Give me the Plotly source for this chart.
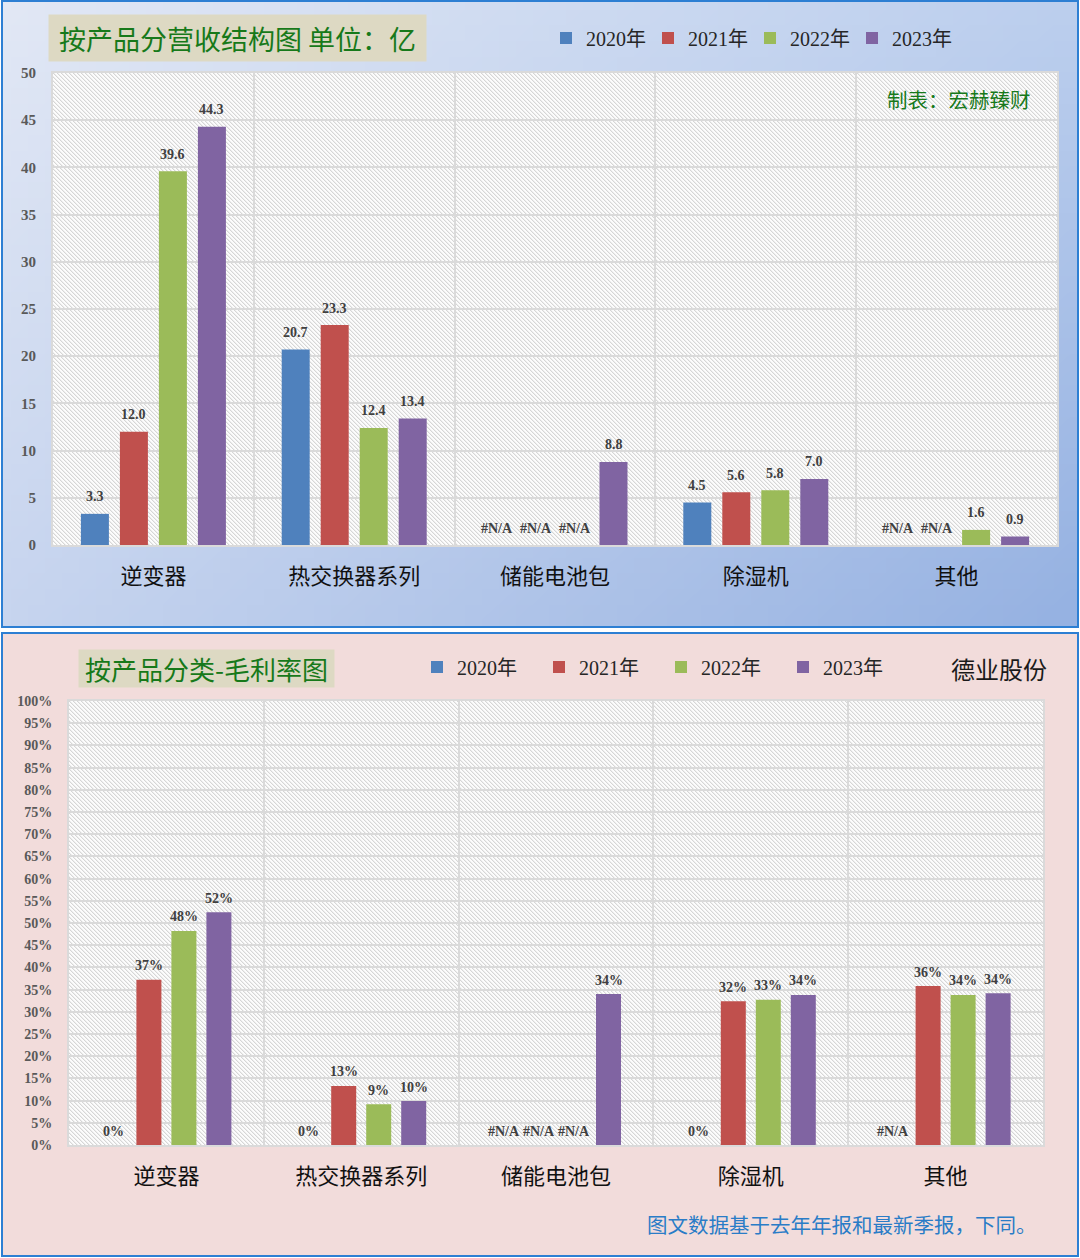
import zlib, struct, base64
import numpy as np
import plotly.graph_objects as go

W, H = 1080, 1258

categories = ["逆变器", "热交换器系列", "储能电池包", "除湿机", "其他"]
years = ["2020年", "2021年", "2022年", "2023年"]
colors = ["#4f81bd", "#c0504d", "#9bbb59", "#8064a2"]

revenue_2020 = [3.3, 20.7, None, 4.5, None]
revenue_2021 = [12.0, 23.3, None, 5.6, None]
revenue_2022 = [39.6, 12.4, None, 5.8, 1.6]
revenue_2023 = [44.3, 13.4, 8.8, 7.0, 0.9]

margin_2020 = [0.0, 0.0, None, 0.0, None]
margin_2021 = [0.372, 0.133, None, 0.324, 0.358]
margin_2022 = [0.482, 0.092, None, 0.327, 0.338]
margin_2023 = [0.524, 0.099, 0.340, 0.338, 0.342]

revenue_ticks = list(range(0, 55, 5))
margin_ticks = [i / 100 for i in range(0, 105, 5)]

revenue = [revenue_2020, revenue_2021, revenue_2022, revenue_2023]
margin = [margin_2020, margin_2021, margin_2022, margin_2023]


# ---------- helpers for decorative backgrounds ----------
def png_uri(arr):
    h, w, _ = arr.shape
    raw = b"".join(b"\x00" + arr[y].astype(np.uint8).tobytes() for y in range(h))

    def chunk(t, d):
        c = struct.pack(">I", len(d)) + t + d
        return c + struct.pack(">I", zlib.crc32(t + d) & 0xFFFFFFFF)

    png = (b"\x89PNG\r\n\x1a\n"
           + chunk(b"IHDR", struct.pack(">IIBBBBB", w, h, 8, 2, 0, 0, 0))
           + chunk(b"IDAT", zlib.compress(raw, 9))
           + chunk(b"IEND", b""))
    return "data:image/png;base64," + base64.b64encode(png).decode()


def hex2rgb(h):
    h = h.lstrip("#")
    return np.array([int(h[i:i + 2], 16) for i in (0, 2, 4)], dtype=float)


def gradient(w, h, tl, tr, bl, br):
    u = np.linspace(0, 1, w)[None, :, None]
    v = np.linspace(0, 1, h)[:, None, None]
    tl, tr, bl, br = map(hex2rgb, (tl, tr, bl, br))
    top = tl * (1 - u) + tr * u
    bot = bl * (1 - u) + br * u
    return top * (1 - v) + bot * v


def hatch(w, h):
    yy, xx = np.mgrid[0:h, 0:w]
    m = (xx - yy) % 4
    arr = np.empty((h, w, 3))
    arr[:] = 252
    arr[m == 0] = 214
    arr[m == 1] = 238
    return arr


def img(src, x0, y0, x1, y1):
    return dict(source=src, xref="paper", yref="paper", x=x0 / W, y=1 - y0 / H,
                sizex=(x1 - x0) / W, sizey=(y1 - y0) / H, xanchor="left", yanchor="top",
                sizing="stretch", layer="below")


# plot-area pixel boxes
TOP = dict(x0=53, x1=1057, y0=73, y1=545)
BOT = dict(x0=69, x1=1043, y0=701, y1=1145)
TOP_CAT = (TOP["x1"] - TOP["x0"]) / 5
BOT_CAT = (BOT["x1"] - BOT["x0"]) / 5
TOP_SLOT, TOP_BAR = 39.0, 28.0
BOT_SLOT, BOT_BAR = 35.0, 25.0

images = [
    img(png_uri(gradient(64, 40, "#e2e8f5", "#bccfee", "#c7d5ef", "#96b2e2")), 2, 1, 1078, 627),
    img(png_uri(np.full((4, 4, 3), hex2rgb("#f2dcdb"))), 2, 633, 1078, 1256),
    img(png_uri(hatch(TOP["x1"] - TOP["x0"], TOP["y1"] - TOP["y0"])), TOP["x0"], TOP["y0"], TOP["x1"], TOP["y1"]),
    img(png_uri(hatch(BOT["x1"] - BOT["x0"], BOT["y1"] - BOT["y0"])), BOT["x0"], BOT["y0"], BOT["x1"], BOT["y1"]),
]

fig = go.Figure()

SERIF = "Liberation Serif, Noto Sans CJK SC"
CJK = "Noto Sans CJK SC"
LBL = "#404040"
annotations = []

for i, yr in enumerate(years):
    vals = revenue[i]
    fig.add_trace(go.Bar(
        x=categories, y=[v if v is not None else 0 for v in vals],
        width=TOP_BAR / TOP_CAT,
        offset=((i - 1.5) * TOP_SLOT - TOP_BAR / 2) / TOP_CAT,
        marker=dict(color=colors[i], line=dict(width=0)),
        name=yr, legend="legend", xaxis="x", yaxis="y", hoverinfo="skip",
    ))
    for cat, v in zip(categories, vals):
        annotations.append(dict(
            x=cat, y=v if v is not None else 0, xref="x", yref="y",
            text=f"{v:.1f}" if v is not None else "#N/A", showarrow=False,
            xshift=(i - 1.5) * TOP_SLOT, yshift=17, yanchor="middle",
            font=dict(family=SERIF, size=14, color=LBL, weight="bold")))

for i, yr in enumerate(years):
    vals = margin[i]
    fig.add_trace(go.Bar(
        x=categories, y=[v if v is not None else 0 for v in vals],
        width=BOT_BAR / BOT_CAT,
        offset=((i - 1.5) * BOT_SLOT - BOT_BAR / 2) / BOT_CAT,
        marker=dict(color=colors[i], line=dict(width=0)),
        name=yr, legend="legend2", xaxis="x2", yaxis="y2", hoverinfo="skip",
    ))
    for cat, v in zip(categories, vals):
        annotations.append(dict(
            x=cat, y=v if v is not None else 0, xref="x2", yref="y2",
            text=f"{v:.0%}" if v is not None else "#N/A", showarrow=False,
            xshift=(i - 1.5) * BOT_SLOT, yshift=14, yanchor="middle",
            font=dict(family=SERIF, size=14, color=LBL, weight="bold")))

GRID = "#dadada"


def xax(box):
    return dict(domain=[box["x0"] / W, box["x1"] / W], type="category",
                showgrid=True, gridcolor=GRID, gridwidth=2, tickson="boundaries",
                ticks="", showline=True, linecolor=GRID, linewidth=2, mirror=True,
                tickfont=dict(family=CJK, size=22, color="#111111"), ticklabelstandoff=11,
                fixedrange=True)


def yax(box, ticks, fmt, size):
    return dict(domain=[1 - box["y1"] / H, 1 - box["y0"] / H], range=[0, ticks[-1]],
                tickvals=ticks, tickformat=fmt, showgrid=True, gridcolor=GRID, gridwidth=2,
                zeroline=False, showline=True, linecolor=GRID, linewidth=2, mirror=True,
                ticks="", ticklabelstandoff=12,
                tickfont=dict(family=SERIF, size=size, color="#595959", weight="bold"),
                fixedrange=True)


xa1 = xax(TOP); xa1["anchor"] = "y"
xa2 = xax(BOT); xa2["anchor"] = "y2"
ya1 = yax(TOP, revenue_ticks, "d", 15); ya1["anchor"] = "x"
ya2 = yax(BOT, margin_ticks, ".0%", 14); ya2["anchor"] = "x2"

GREEN = "#17791a"
annotations += [
    dict(text="按产品分营收结构图 单位：亿", xref="paper", yref="paper",
         x=48 / W, y=1 - 14 / H, xanchor="left", yanchor="top", showarrow=False,
         font=dict(family=CJK, size=27, color=GREEN), bgcolor="#ddd9c3",
         width=371, height=40, borderpad=3, align="center"),
    dict(text="制表：宏赫臻财", xref="paper", yref="paper",
         x=1033 / W, y=1 - 99 / H, xanchor="right", yanchor="middle", showarrow=False,
         font=dict(family=CJK, size=20.5, color=GREEN)),
    dict(text="按产品分类-毛利率图", xref="paper", yref="paper",
         x=78 / W, y=1 - 649 / H, xanchor="left", yanchor="top", showarrow=False,
         font=dict(family=CJK, size=26, color=GREEN), bgcolor="#ddd9c3",
         width=249, height=31, borderpad=3, align="center"),
    dict(text="德业股份", xref="paper", yref="paper",
         x=999 / W, y=1 - 668 / H, xanchor="center", yanchor="middle", showarrow=False,
         font=dict(family=CJK, size=24, color="#1a1a1a")),
    dict(text="图文数据基于去年年报和最新季报，下同。", xref="paper", yref="paper",
         x=1039 / W, y=1 - 1224 / H, xanchor="right", yanchor="middle", showarrow=False,
         font=dict(family=CJK, size=20.5, color="#2a7cc7")),
]

BORDER = "#2d7fd3"
shapes = [
    dict(type="rect", xref="paper", yref="paper", x0=2 / W, x1=1078 / W, y0=1 - 627 / H, y1=1 - 1 / H,
         line=dict(color=BORDER, width=2), fillcolor="rgba(0,0,0,0)", layer="above"),
    dict(type="rect", xref="paper", yref="paper", x0=2 / W, x1=1078 / W, y0=1 - 1256 / H, y1=1 - 633 / H,
         line=dict(color=BORDER, width=2), fillcolor="rgba(0,0,0,0)", layer="above"),
]

legend_common = dict(orientation="h", xanchor="left", yanchor="middle", bgcolor="rgba(0,0,0,0)",
                     font=dict(family=SERIF, size=20, color="#262626"), itemwidth=30,
                     traceorder="normal", itemclick=False, itemdoubleclick=False)

fig.update_layout(
    width=W, height=H, margin=dict(l=0, r=0, t=0, b=0, autoexpand=False),
    paper_bgcolor="white", plot_bgcolor="rgba(0,0,0,0)",
    barmode="group",
    xaxis=xa1, yaxis=ya1, xaxis2=xa2, yaxis2=ya2,
    images=images, shapes=shapes, annotations=annotations,
    legend=dict(legend_common, x=546 / W, y=1 - 38 / H, entrywidth=57),
    legend2=dict(legend_common, x=417 / W, y=1 - 667 / H, entrywidth=77),
    showlegend=True,
)

fig.write_html("out.html")
